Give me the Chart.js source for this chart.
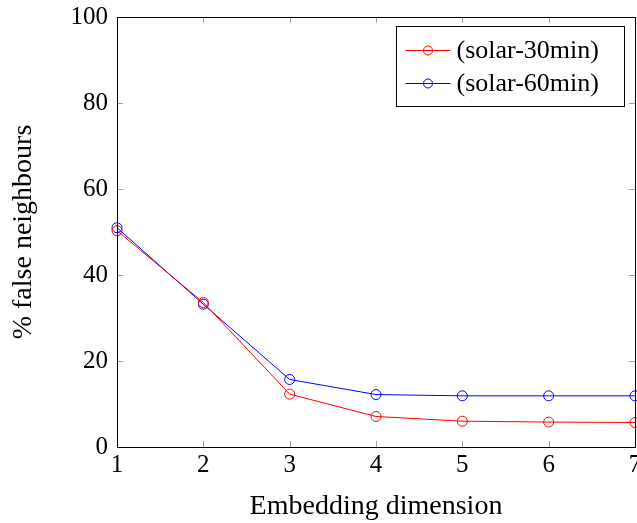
<!DOCTYPE html>
<html lang="en">
  <head>
    <meta charset="UTF-8" />
    <title>False neighbours</title>
    <style>
      html, body { margin: 0; padding: 0; background: #ffffff; }
      #wrap { width: 637px; height: 523px; position: relative; }
    </style>
  </head>
  <body>
    <div id="wrap"><canvas id="fnnChart"></canvas></div>

    <script src="https://cdn.jsdelivr.net/npm/chart.js"></script>
    <script>
      var dims = [1, 2, 3, 4, 5, 6, 7];
      var solar30 = [50.3, 33.6, 12.3, 7.1, 6.0, 5.8, 5.7];
      var solar60 = [51.0, 33.2, 15.7, 12.2, 11.9, 11.9, 11.9];
      var seriesNames = ["(solar-30min)", "(solar-60min)"];
      var yTicks = [0, 20, 40, 60, 80, 100];

      var serif = "'Liberation Serif', 'DejaVu Serif', serif";

      function toPoints(values) {
        return values.map(function (v, i) { return { x: dims[i], y: v }; });
      }

      // frame, inside tick marks on all four sides, and legend box
      var framePlugin = {
        id: "frame",
        afterDatasetsDraw: function (chart) {
          var ctx = chart.ctx;
          var a = chart.chartArea;
          var xs = chart.scales.x;
          var ys = chart.scales.y;
          ctx.save();
          ctx.strokeStyle = "#a0a0a0";
          ctx.lineWidth = 1;
          dims.forEach(function (d) {
            var px = Math.round(xs.getPixelForValue(d)) + 0.5;
            ctx.beginPath();
            ctx.moveTo(px, a.bottom); ctx.lineTo(px, a.bottom - 6);
            ctx.moveTo(px, a.top); ctx.lineTo(px, a.top + 6);
            ctx.stroke();
          });
          yTicks.forEach(function (t) {
            var py = Math.round(ys.getPixelForValue(t)) + 0.5;
            ctx.beginPath();
            ctx.moveTo(a.left, py); ctx.lineTo(a.left + 6, py);
            ctx.moveTo(a.right, py); ctx.lineTo(a.right - 6, py);
            ctx.stroke();
          });
          ctx.strokeStyle = "#000000";
          ctx.strokeRect(Math.round(a.left) + 0.5, Math.round(a.top) + 0.5,
            Math.round(a.right - a.left), Math.round(a.bottom - a.top));

          // legend
          var bx = 396.5, by = 26.5, bw = 228, bh = 80;
          ctx.fillStyle = "#ffffff";
          ctx.fillRect(bx, by, bw, bh);
          ctx.strokeStyle = "#000000";
          ctx.strokeRect(bx, by, bw, bh);
          chart.data.datasets.forEach(function (ds, i) {
            var cy = by + 24 + i * 33;
            ctx.strokeStyle = ds.borderColor;
            ctx.lineWidth = 1;
            ctx.beginPath();
            ctx.moveTo(bx + 9, cy); ctx.lineTo(bx + 54, cy);
            ctx.stroke();
            ctx.beginPath();
            ctx.arc(bx + 31.5, cy, 4.5, 0, Math.PI * 2);
            ctx.stroke();
            ctx.fillStyle = "#000000";
            ctx.font = "26px " + serif;
            ctx.textBaseline = "middle";
            ctx.textAlign = "left";
            ctx.fillText(ds.label, bx + 60, cy + 1);
          });
          ctx.restore();
        },
      };

      var ctx = document.getElementById("fnnChart").getContext("2d");
      var chart = new Chart(ctx, {
        type: "line",
        data: {
          datasets: [
            {
              label: seriesNames[0],
              data: toPoints(solar30),
              borderColor: "#ff0000",
              backgroundColor: "rgba(0,0,0,0)",
              pointBackgroundColor: "rgba(0,0,0,0)",
              pointBorderColor: "#ff0000",
              pointRadius: 5,
              pointBorderWidth: 1,
              borderWidth: 1,
              fill: false,
              tension: 0,
            },
            {
              label: seriesNames[1],
              data: toPoints(solar60),
              borderColor: "#0000ff",
              backgroundColor: "rgba(0,0,0,0)",
              pointBackgroundColor: "rgba(0,0,0,0)",
              pointBorderColor: "#0000ff",
              pointRadius: 5,
              pointBorderWidth: 1,
              borderWidth: 1,
              fill: false,
              tension: 0,
            },
          ],
        },
        options: {
          responsive: true,
          maintainAspectRatio: false,
          animation: false,
          clip: false,
          layout: {
            autoPadding: false,
            padding: { top: 17, right: 2, left: 0, bottom: 0 },
          },
          plugins: {
            legend: { display: false },
            tooltip: { enabled: false },
          },
          scales: {
            x: {
              type: "linear",
              min: 1,
              max: 7,
              afterFit: function (s) {
                s.height = 76;
                s.paddingLeft = 0;
                s.paddingRight = 0;
              },
              grid: { display: false, drawTicks: false },
              border: { display: false },
              afterBuildTicks: function (s) {
                s.ticks = dims.map(function (d) { return { value: d }; });
              },
              ticks: {
                color: "#000000",
                font: { family: serif, size: 25 },
                padding: 3,
                maxRotation: 0,
              },
              title: {
                display: true,
                text: "Embedding dimension",
                color: "#000000",
                font: { family: serif, size: 28 },
                padding: { top: 8, bottom: 0 },
              },
            },
            y: {
              min: 0,
              max: 100,
              afterFit: function (s) {
                s.width = 117;
                s.paddingTop = 0;
                s.paddingBottom = 0;
              },
              grid: { display: false, drawTicks: false },
              border: { display: false },
              afterBuildTicks: function (s) {
                s.ticks = yTicks.map(function (t) { return { value: t }; });
              },
              ticks: {
                color: "#000000",
                font: { family: serif, size: 25 },
                padding: 9,
              },
              title: {
                display: true,
                text: "% false neighbours",
                color: "#000000",
                font: { family: serif, size: 28 },
                padding: { top: 7, bottom: 10 },
              },
            },
          },
        },
        plugins: [framePlugin],
      });
    </script>
  </body>
</html>
